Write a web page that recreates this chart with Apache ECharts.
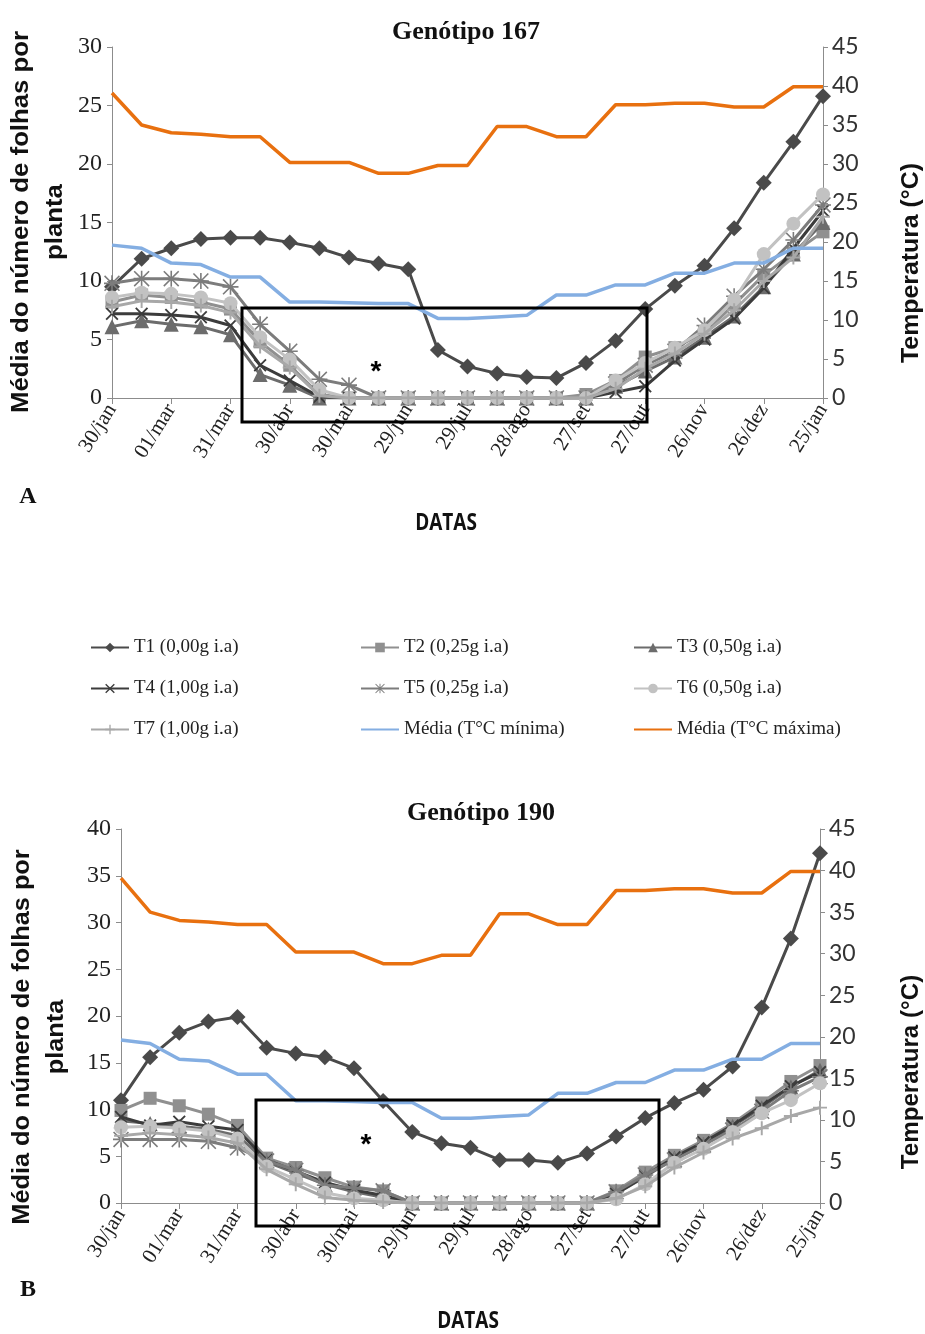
<!DOCTYPE html>
<html>
<head>
<meta charset="utf-8">
<script src="https://cdn.jsdelivr.net/npm/echarts@6/dist/echarts.min.js"></script>
<style>
html, body { margin: 0; padding: 0; background: #fff; }
#chart { width: 925px; height: 1334px; }
</style>
</head>
<body>
<div id="chart"></div>
<script>
// datas de avaliação (a cada 15 dias)
var datas = ["30/jan", "14/fev", "01/mar", "16/mar", "31/mar", "15/abr", "30/abr", "15/mai", "30/mai",
	"14/jun", "29/jun", "14/jul", "29/jul", "13/ago", "28/ago", "12/set", "27/set", "12/out", "27/out",
	"11/nov", "26/nov", "11/dez", "26/dez", "10/jan", "25/jan"];

var nomes = ["T1 (0,00g i.a)", "T2 (0,25g i.a)", "T3 (0,50g i.a)", "T4 (1,00g i.a)", "T5 (0,25g i.a)",
	"T6 (0,50g i.a)", "T7 (1,00g i.a)"];
var nomeMin = "Média (T°C mínima)", nomeMax = "Média (T°C máxima)";

// temperaturas médias (eixo secundário)
var tMax = [39.1, 35.0, 34.0, 33.8, 33.5, 33.5, 30.2, 30.2, 30.2, 28.8, 28.8, 29.8, 29.8, 34.8, 34.8,
	33.5, 33.5, 37.6, 37.6, 37.8, 37.8, 37.3, 37.3, 39.9, 39.9];
var tMin = [19.6, 19.2, 17.3, 17.1, 15.5, 15.5, 12.3, 12.3, 12.2, 12.1, 12.1, 10.2, 10.2, 10.4, 10.6,
	13.2, 13.2, 14.5, 14.5, 16.0, 16.0, 17.3, 17.3, 19.2, 19.2];

// Genótipo 167
var a167T1 = [9.5, 11.9, 12.8, 13.6, 13.7, 13.7, 13.3, 12.8, 12.0, 11.5, 11.0, 4.1, 2.7, 2.1, 1.8, 1.7, 3.0, 4.9, 7.6, 9.6, 11.3, 14.5, 18.4, 21.9, 25.8];
var a167T2 = [8.2, 8.8, 8.6, 8.2, 7.6, 4.8, 2.8, 0.3, 0, 0, 0, 0, 0, 0, 0, 0, 0.3, 1.5, 3.5, 4.3, 5.6, 8.0, 10.5, 12.4, 14.2];
var a167T3 = [6.1, 6.6, 6.3, 6.1, 5.4, 2.0, 1.1, 0, 0, 0, 0, 0, 0, 0, 0, 0, 0, 1.0, 2.3, 3.5, 5.2, 7.0, 9.5, 12.3, 15.0];
var a167T4 = [7.2, 7.2, 7.1, 6.9, 6.2, 2.8, 1.5, 0.1, 0, 0, 0, 0, 0, 0, 0, 0, 0, 0.5, 1.0, 3.2, 5.0, 6.8, 9.4, 12.8, 16.0];
var a167T5 = [9.8, 10.2, 10.2, 10.0, 9.5, 6.3, 4.0, 1.6, 1.1, 0, 0, 0, 0, 0, 0, 0, 0, 1.2, 2.8, 4.0, 6.2, 8.7, 11.0, 13.5, 16.5];
var a167T6 = [8.6, 9.0, 8.9, 8.6, 8.1, 5.2, 3.3, 0.7, 0, 0, 0, 0, 0, 0, 0, 0, 0, 1.5, 3.0, 4.3, 5.8, 8.4, 12.3, 14.9, 17.4];
var a167T7 = [7.8, 8.3, 8.2, 7.9, 7.3, 4.4, 2.6, 0.2, 0, 0, 0, 0, 0, 0, 0, 0, 0, 0.8, 2.5, 3.8, 5.5, 7.5, 10.0, 12.0, 15.5];

// Genótipo 190
var b190T1 = [11.0, 15.6, 18.2, 19.4, 19.9, 16.6, 16.0, 15.6, 14.4, 10.9, 7.6, 6.4, 5.9, 4.6, 4.6, 4.3, 5.3, 7.1, 9.1, 10.7, 12.1, 14.6, 20.9, 28.3, 37.4];
var b190T2 = [9.9, 11.2, 10.4, 9.5, 8.3, 4.8, 3.8, 2.7, 1.7, 1.3, 0, 0, 0, 0, 0, 0, 0, 1.3, 3.3, 5.1, 6.7, 8.5, 10.7, 13.0, 14.7];
var b190T3 = [8.8, 8.5, 8.2, 7.9, 7.2, 4.4, 3.2, 2.0, 1.2, 0.6, 0, 0, 0, 0, 0, 0, 0, 1.0, 2.8, 4.8, 6.2, 8.2, 10.2, 12.4, 14.2];
var b190T4 = [9.2, 8.3, 8.7, 8.2, 7.8, 4.6, 3.4, 2.2, 1.4, 0.8, 0, 0, 0, 0, 0, 0, 0, 1.0, 2.9, 4.9, 6.5, 8.3, 10.4, 12.5, 14.0];
var b190T5 = [6.8, 6.8, 6.8, 6.6, 5.9, 4.5, 3.5, 1.9, 1.6, 1.3, 0, 0, 0, 0, 0, 0, 0, 1.2, 3.0, 4.6, 6.2, 7.8, 9.8, 12.0, 13.5];
var b190T6 = [8.1, 8.2, 8.0, 7.7, 6.9, 3.9, 2.5, 1.1, 0.5, 0.3, 0, 0, 0, 0, 0, 0, 0, 0.4, 2.0, 4.3, 5.8, 7.6, 9.6, 11.0, 12.8];
var b190T7 = [7.2, 7.5, 7.3, 7.0, 6.4, 3.6, 2.0, 0.6, 0.3, 0.1, 0, 0, 0, 0, 0, 0, 0, 0.5, 1.8, 3.8, 5.4, 6.9, 8.0, 9.3, 10.2];

var pathX = "path://M0,1L1,0L5,4L9,0L10,1L6,5L10,9L9,10L5,6L1,10L0,9L4,5Z";
var pathMais = "path://M4.3,0H5.7V4.3H10V5.7H5.7V10H4.3V5.7H0V4.3H4.3Z";
var pathAst = "path://M4.5,0H5.5V4.5H10V5.5H5.5V10H4.5V5.5H0V4.5H4.5Z M0.7,0L5,4.3L9.3,0L10,0.7L5.7,5L10,9.3L9.3,10L5,5.7L0.7,10L0,9.3L4.3,5L0,0.7Z";

var estilos = [
	{ cor: "#4a4a4a", simb: "diamond", tam: 16 },
	{ cor: "#909090", simb: "rect", tam: 13 },
	{ cor: "#6c6c6c", simb: "triangle", tam: 15 },
	{ cor: "#3c3c3c", simb: pathX, tam: 13 },
	{ cor: "#7c7c7c", simb: pathAst, tam: 16 },
	{ cor: "#c2c2c2", simb: "circle", tam: 14 },
	{ cor: "#a8a8a8", simb: pathMais, tam: 14 }
];

var eixoCor = "#8c8c8c";

function serieT(i, dados, g) {
	var e = estilos[i];
	return {
		name: nomes[i], type: "line", xAxisIndex: g, yAxisIndex: g * 2,
		data: dados, symbol: e.simb, symbolSize: e.tam, showSymbol: true,
		lineStyle: { color: e.cor, width: 3 },
		itemStyle: { color: e.cor },
		z: 2 + i, animation: false
	};
}

function serieTemp(nome, dados, cor, g) {
	return {
		name: nome, type: "line", xAxisIndex: g, yAxisIndex: g * 2 + 1,
		data: dados, symbol: "none", showSymbol: false,
		lineStyle: { color: cor, width: 3.5 }, itemStyle: { color: cor },
		z: 12, animation: false
	};
}

function eixoX(g) {
	return {
		type: "category", gridIndex: g, data: datas, boundaryGap: false,
		axisLine: { show: true, lineStyle: { color: eixoCor } },
		axisTick: { show: true, interval: 1, length: 6, lineStyle: { color: eixoCor } },
		axisLabel: { interval: 1, rotate: 58, margin: 8, fontFamily: "Liberation Serif", fontSize: 21, color: "#222" },
		splitLine: { show: false }
	};
}

function eixoY(g, max, direita) {
	return {
		type: "value", gridIndex: g, min: 0, max: max, interval: 5,
		position: direita ? "right" : "left",
		axisLine: { show: true, lineStyle: { color: eixoCor } },
		axisTick: { show: true, length: 5, lineStyle: { color: eixoCor } },
		axisLabel: direita ?
			{ margin: 9, fontFamily: "Lato", fontSize: 23, color: "#333" } :
			{ margin: 10, fontFamily: "Liberation Serif", fontSize: 24, color: "#222" },
		splitLine: { show: false }
	};
}

var nomeEixo = "Média do número de folhas por\nplanta";
var fonteBold = "Liberation Sans";

var legendaTexto = { fontFamily: "Liberation Serif", fontSize: 19, color: "#222" };
function legenda(itens, x) {
	return {
		data: itens, orient: "vertical", left: x, top: 633, itemGap: 22,
		itemWidth: 38, itemHeight: 12, textStyle: legendaTexto, selectedMode: true
	};
}

var myChart = echarts.init(document.getElementById("chart"), null, { renderer: "canvas" });

var option = {
	backgroundColor: "#fff",
	animation: false,
	title: [
		{ text: "Genótipo 167", left: 461, top: 14, textAlign: "center",
			textStyle: { fontFamily: "Liberation Serif", fontSize: 26, fontWeight: "bold", color: "#111" } },
		{ text: "Genótipo 190", left: 476, top: 795, textAlign: "center",
			textStyle: { fontFamily: "Liberation Serif", fontSize: 26, fontWeight: "bold", color: "#111" } }
	],
	legend: [
		legenda([nomes[0], nomes[3], nomes[6]], 85),
		legenda([nomes[1], nomes[4], { name: nomeMin, itemStyle: { opacity: 0 } }], 355),
		legenda([nomes[2], nomes[5], { name: nomeMax, itemStyle: { opacity: 0 } }], 628)
	],
	grid: [
		{ left: 112, right: 102, top: 47, height: 351 },
		{ left: 121, right: 105, top: 829, height: 374 }
	],
	xAxis: [eixoX(0), eixoX(1)],
	yAxis: [eixoY(0, 30, false), eixoY(0, 45, true), eixoY(1, 40, false), eixoY(1, 45, true)],
	series: [
		serieT(0, a167T1, 0), serieT(1, a167T2, 0), serieT(2, a167T3, 0), serieT(3, a167T4, 0),
		serieT(4, a167T5, 0), serieT(5, a167T6, 0), serieT(6, a167T7, 0),
		serieTemp(nomeMin, tMin, "#84aee2", 0), serieTemp(nomeMax, tMax, "#e8700f", 0),
		serieT(0, b190T1, 1), serieT(1, b190T2, 1), serieT(2, b190T3, 1), serieT(3, b190T4, 1),
		serieT(4, b190T5, 1), serieT(5, b190T6, 1), serieT(6, b190T7, 1),
		serieTemp(nomeMin, tMin, "#84aee2", 1), serieTemp(nomeMax, tMax, "#e8700f", 1)
	],
	graphic: [
		// caixas de destaque
		{ type: "rect", shape: { x: 242, y: 308, width: 405, height: 114 }, z: 100,
			style: { fill: "none", stroke: "#000", lineWidth: 3 } },
		{ type: "rect", shape: { x: 256, y: 1100, width: 403, height: 126 }, z: 100,
			style: { fill: "none", stroke: "#000", lineWidth: 3 } },
		{ type: "text", x: 376, y: 372, z: 100, style: { text: "*", fontFamily: fonteBold, fontSize: 28, fontWeight: "bold", fill: "#000", align: "center", verticalAlign: "middle" } },
		{ type: "text", x: 366, y: 1145, z: 100, style: { text: "*", fontFamily: fonteBold, fontSize: 28, fontWeight: "bold", fill: "#000", align: "center", verticalAlign: "middle" } },
		// nomes dos eixos
		{ type: "text", x: 39, y: 222, rotation: Math.PI / 2, scaleX: 1.12, z: 100,
			style: { text: nomeEixo, fontFamily: fonteBold, fontSize: 23, fontWeight: "bold", lineHeight: 34, fill: "#111", align: "center", verticalAlign: "middle" } },
		{ type: "text", x: 40, y: 1037, rotation: Math.PI / 2, scaleX: 1.1, z: 100,
			style: { text: nomeEixo, fontFamily: fonteBold, fontSize: 23, fontWeight: "bold", lineHeight: 34, fill: "#111", align: "center", verticalAlign: "middle" } },
		{ type: "text", x: 912, y: 263, rotation: Math.PI / 2, scaleX: 1.08, z: 100,
			style: { text: "Temperatura (°C)", fontFamily: fonteBold, fontSize: 23, fontWeight: "bold", fill: "#111", align: "center", verticalAlign: "middle" } },
		{ type: "text", x: 912, y: 1072, rotation: Math.PI / 2, scaleX: 1.05, z: 100,
			style: { text: "Temperatura (°C)", fontFamily: fonteBold, fontSize: 23, fontWeight: "bold", fill: "#111", align: "center", verticalAlign: "middle" } },
		{ type: "text", x: 446, y: 524, scaleY: 1.2, z: 100,
			style: { text: "DATAS", fontFamily: "Open Sans", fontSize: 19, fontWeight: "bold", fill: "#111", align: "center", verticalAlign: "middle" } },
		{ type: "text", x: 468, y: 1322, scaleY: 1.2, z: 100,
			style: { text: "DATAS", fontFamily: "Open Sans", fontSize: 19, fontWeight: "bold", fill: "#111", align: "center", verticalAlign: "middle" } },
		// letras dos painéis
		{ type: "text", x: 28, y: 497, z: 100,
			style: { text: "A", fontFamily: "Liberation Serif", fontSize: 24, fontWeight: "bold", fill: "#111", align: "center", verticalAlign: "middle" } },
		{ type: "text", x: 28, y: 1290, z: 100,
			style: { text: "B", fontFamily: "Liberation Serif", fontSize: 24, fontWeight: "bold", fill: "#111", align: "center", verticalAlign: "middle" } }
	]
};

myChart.setOption(option);
</script>
</body>
</html>
